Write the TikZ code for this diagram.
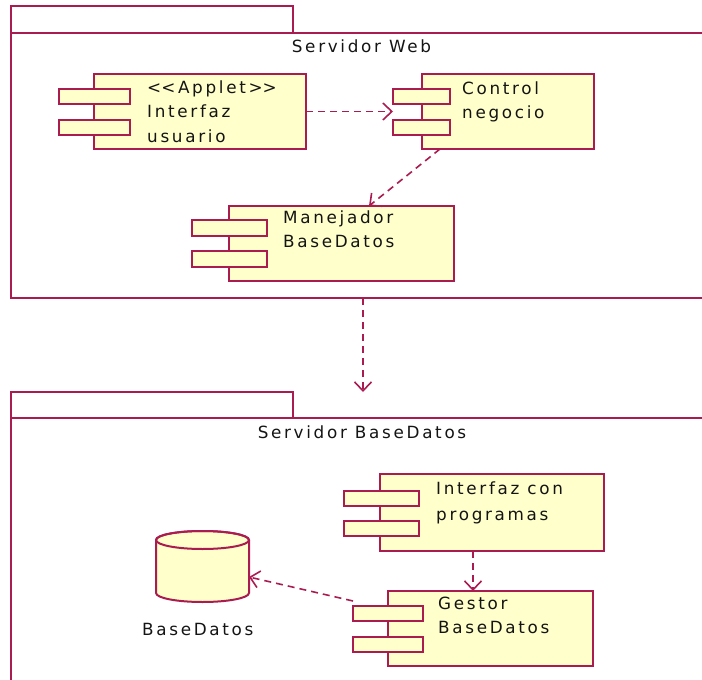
\documentclass[tikz,border=0pt]{standalone}
\usepackage{fontspec}
\newfontfamily\umlfont[LetterSpace=16]{DejaVu Sans}
\usetikzlibrary{arrows.meta,calc}
\definecolor{umlline}{RGB}{170,28,80}
\definecolor{umlfill}{RGB}{255,255,204}
\definecolor{umltext}{RGB}{20,20,20}
\begin{document}
\begin{tikzpicture}[x=1pt,y=1pt,
  frame/.style={draw=umlline, line width=2pt, rectangle, inner sep=0pt, outer sep=0pt},
  shapeline/.style={draw=umlline, fill=umlfill, line width=2pt},
  box/.style={shapeline, rectangle, inner sep=0pt, outer sep=0pt},
  port/.style={box, minimum height=15pt},
  lbl/.style={font=\umlfont\fontsize{16.8}{24}\selectfont, text=umltext, inner sep=0pt, anchor=base west},
  title/.style={lbl, anchor=base},
  dep/.style={draw=umlline, line width=1.6pt, dash pattern=on 7pt off 5pt, -{Straight Barb[length=9pt,width=17pt]}}
]
\useasboundingbox (0,0) rectangle (702,-680);
\clip (0,0) rectangle (702,-680);

% packages
\node[frame, minimum width=282pt, minimum height=27pt] (p1tab) at (152,-19.5) {};
\node[frame, minimum width=695pt, minimum height=265pt] (p1) at (358.5,-165.5) {};
\node[title] (p1name) at (361.5,-52) {Servidor Web};

\node[frame, minimum width=282pt, minimum height=26pt] (p2tab) at (152,-405) {};
\node[frame, minimum width=695pt, minimum height=272pt] (p2) at (358.5,-554) {};
\node[title] (p2name) at (362,-438) {Servidor BaseDatos};

% Interfaz usuario
\node[box, minimum width=212pt, minimum height=75pt] (iu) at (200,-111.5) {};
\node[port, minimum width=71pt] (iu1) at (94.5,-96.5) {};
\node[port, minimum width=71pt] (iu2) at (94.5,-127.5) {};
\node[lbl] (iut1) at (147,-93) {<\kern0pt<Applet>\kern0pt>};
\node[lbl] (iut2) at (147,-117) {Interfaz};
\node[lbl] (iut3) at (147,-142) {usuario};

% Control negocio
\node[box, minimum width=172pt, minimum height=75pt] (cn) at (508,-111.5) {};
\node[port, minimum width=57pt] (cn1) at (421.5,-96.5) {};
\node[port, minimum width=57pt] (cn2) at (421.5,-127.5) {};
\node[lbl] (cnt1) at (462,-94) {Control};
\node[lbl] (cnt2) at (462,-118) {negocio};

% Manejador BaseDatos
\node[box, minimum width=225pt, minimum height=75pt] (mb) at (341.5,-243.5) {};
\node[port, minimum width=75pt, minimum height=16pt] (mb1) at (229.5,-228) {};
\node[port, minimum width=75pt, minimum height=16pt] (mb2) at (229.5,-259) {};
\node[lbl] (mbt1) at (283,-223) {Manejador};
\node[lbl] (mbt2) at (283,-247) {BaseDatos};

% Interfaz con programas
\node[box, minimum width=224pt, minimum height=77pt] (icp) at (492,-512.5) {};
\node[port, minimum width=75pt] (icp1) at (381.5,-498) {};
\node[port, minimum width=75pt] (icp2) at (381.5,-528.5) {};
\node[lbl] (icpt1) at (436,-494) {Interfaz con};
\node[lbl] (icpt2) at (436,-520) {programas};

% Gestor BaseDatos
\node[box, minimum width=205pt, minimum height=75pt] (gb) at (490.5,-628.5) {};
\node[port, minimum width=70pt] (gb1) at (388,-613.5) {};
\node[port, minimum width=70pt] (gb2) at (388,-644) {};
\node[lbl] (gbt1) at (438,-609) {Gestor};
\node[lbl] (gbt2) at (438,-633) {BaseDatos};

% database cylinder
\node[inner sep=0pt, outer sep=0pt, minimum width=93pt, minimum height=71pt] (db) at (202.5,-566.5) {};
\path[shapeline] (156,-540) -- (156,-593)
  arc[start angle=180, end angle=360, x radius=46.5, y radius=9]
  -- (249,-540)
  arc[start angle=0, end angle=180, x radius=46.5, y radius=9] -- cycle;
\draw[draw=umlline, line width=2pt] (202.5,-540) ellipse[x radius=46.5, y radius=9];
\node[lbl] (dbt) at (142,-635) {BaseDatos};

% dependencies
\draw[dep] (iu.east) -- (cn1.west |- iu.east);
\draw[dep] ($(cn.south west)+(18,0)$) -- ($(mb.north west)+(140,0)$);
\coordinate (pk) at ([xshift=4.5pt]p1.south);
\draw[dep] (pk) -- (pk |- p2tab.north);
\coordinate (ig) at ($(icp.south west)+(93,0)$);
\draw[dep] (ig) -- (ig |- gb.north);
\draw[dep] ([yshift=5pt]gb1.north west) -- ($(db.east)+(0,-10.5)$);
\end{tikzpicture}
\end{document}
